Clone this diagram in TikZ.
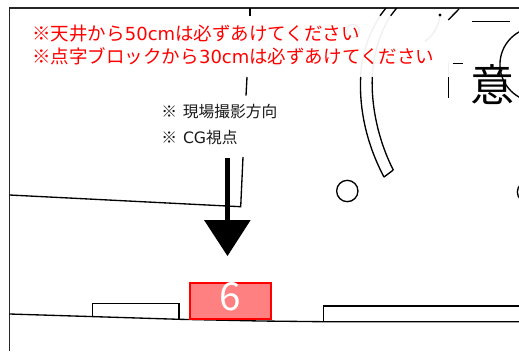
\documentclass[tikz,border=0pt]{standalone}
\usepackage{fontspec}
\setmainfont{DejaVu Sans}
\newfontfamily\cjk{Noto Sans CJK JP}
\definecolor{faint}{gray}{0.94}
\newcommand{\latn}[1]{{\fontsize{13.5}{20}\selectfont #1}}
\tikzset{
  wall/.style={draw=black,line width=1pt},
  ghost/.style={draw=faint,line width=1pt},
  redtext/.style={text=red,font=\fontsize{13.9}{20}\selectfont,anchor=base west,inner sep=0pt},
  blacktext/.style={text=black!90,font=\fontsize{11.8}{14}\selectfont,anchor=base west,inner sep=0pt},
  badge/.style={draw=red,line width=1.35pt,fill=red!50,inner sep=0pt,minimum width=61pt,minimum height=27pt},
  digit/.style={text=white,inner sep=0pt,font=\fontsize{29}{30}\selectfont\cjk},
  holecircle/.style={draw=black,line width=1pt,circle,inner sep=0pt},
}
\begin{document}
\begin{tikzpicture}[x=0.75pt,y=-0.75pt]
\useasboundingbox (0,0) rectangle (519,351);
\fill[white] (0,0) rectangle (519,351);
% frame
\draw[line width=0.8pt,draw=black!85] (9.5,351) -- (9.5,8) -- (519,8);
% faint traces
\draw[ghost] (360.7,77) .. controls (361,55) and (370,30) .. (381,15);
\draw[ghost] (372.3,77) .. controls (373,55) and (380,32) .. (391,15);
\draw[ghost] (440,16) .. controls (438,28) and (432,37) .. (425,41);
\draw[ghost] (448,20) -- (455,12);
\draw[ghost] (448.5,63) -- (448.5,77);
\draw[ghost] (353,31) circle (6.5);
% upper wall
\draw[wall] (9.5,195) -- (240.7,206.7) -- (243,157);
\draw[wall] (246,95.7) -- (247,77);
\draw[wall] (250,8) -- (250,16);
% lower wall
\draw[wall] (9.5,314) -- (179,319.3) -- (260,321) -- (323,321.7) -- (519,321.7);
% benches
\draw[wall] (92.7,317) -- (92.7,303.3) -- (179,303.3) -- (179,319.3);
\draw[wall] (323.3,321.7) -- (323.3,306) -- (519,306);
% curved strip
\draw[wall] (360.7,77) .. controls (359,110) and (367,145) .. (384,177);
\draw[wall] (372.3,77) .. controls (371,105) and (378,140) .. (393.3,170);
\draw[wall] (384,177) -- (393.3,170);
\draw[wall] (380,15.7) -- (386,8);
\draw[wall] (390.7,15.7) -- (396.7,8);
\draw[wall] (448.3,20) -- (459,9);
% upper right bits
\draw[wall] (472,21.3) -- (510,21.3);
\draw[wall] (452.7,63.3) -- (462.7,63.3);
\draw[wall] (448.7,77) -- (448.7,97.7);
\fill (440,15) circle (1.6);
% circles
\node[holecircle,minimum size=16pt] (c1) at (347.3,191) {};
\node[holecircle,minimum size=16pt] (c2) at (528,192) {};
\node[holecircle,minimum size=56pt] (c3) at (537.3,64.5) {};
% texts
\node[redtext] (r1) at (32,40.5) {{\cjk ※天井から}\latn{50cm}{\cjk は必ずあけてください}};
\node[redtext] (r2) at (32,63) {{\cjk ※点字ブロックから}\latn{30cm}{\cjk は必ずあけてください}};
\node[blacktext] (b1) at (161,117) {{\cjk ※}\hspace{4.5pt}{\cjk 現場撮影方向}};
\node[blacktext] (b2) at (161,143.5) {{\cjk ※}\hspace{4.5pt}CG{\cjk 視点}};
\node[font=\fontsize{33}{34}\selectfont\cjk,text=black,inner sep=0pt] (k) at (492,85) {意};
% badge
\node[badge] (six) at (230.3,301.3) {};
\node[digit] (n6) at (230.3,297) {6};
% arrow
\coordinate (as) at (227.5,158);
\coordinate (ab) at (227.5,221);
\coordinate (at) at (227.5,256);
\draw[line width=3.2pt] (as) -- (ab);
\fill (204,220) -- (250.7,220) -- (at) -- cycle;
\end{tikzpicture}
\end{document}
